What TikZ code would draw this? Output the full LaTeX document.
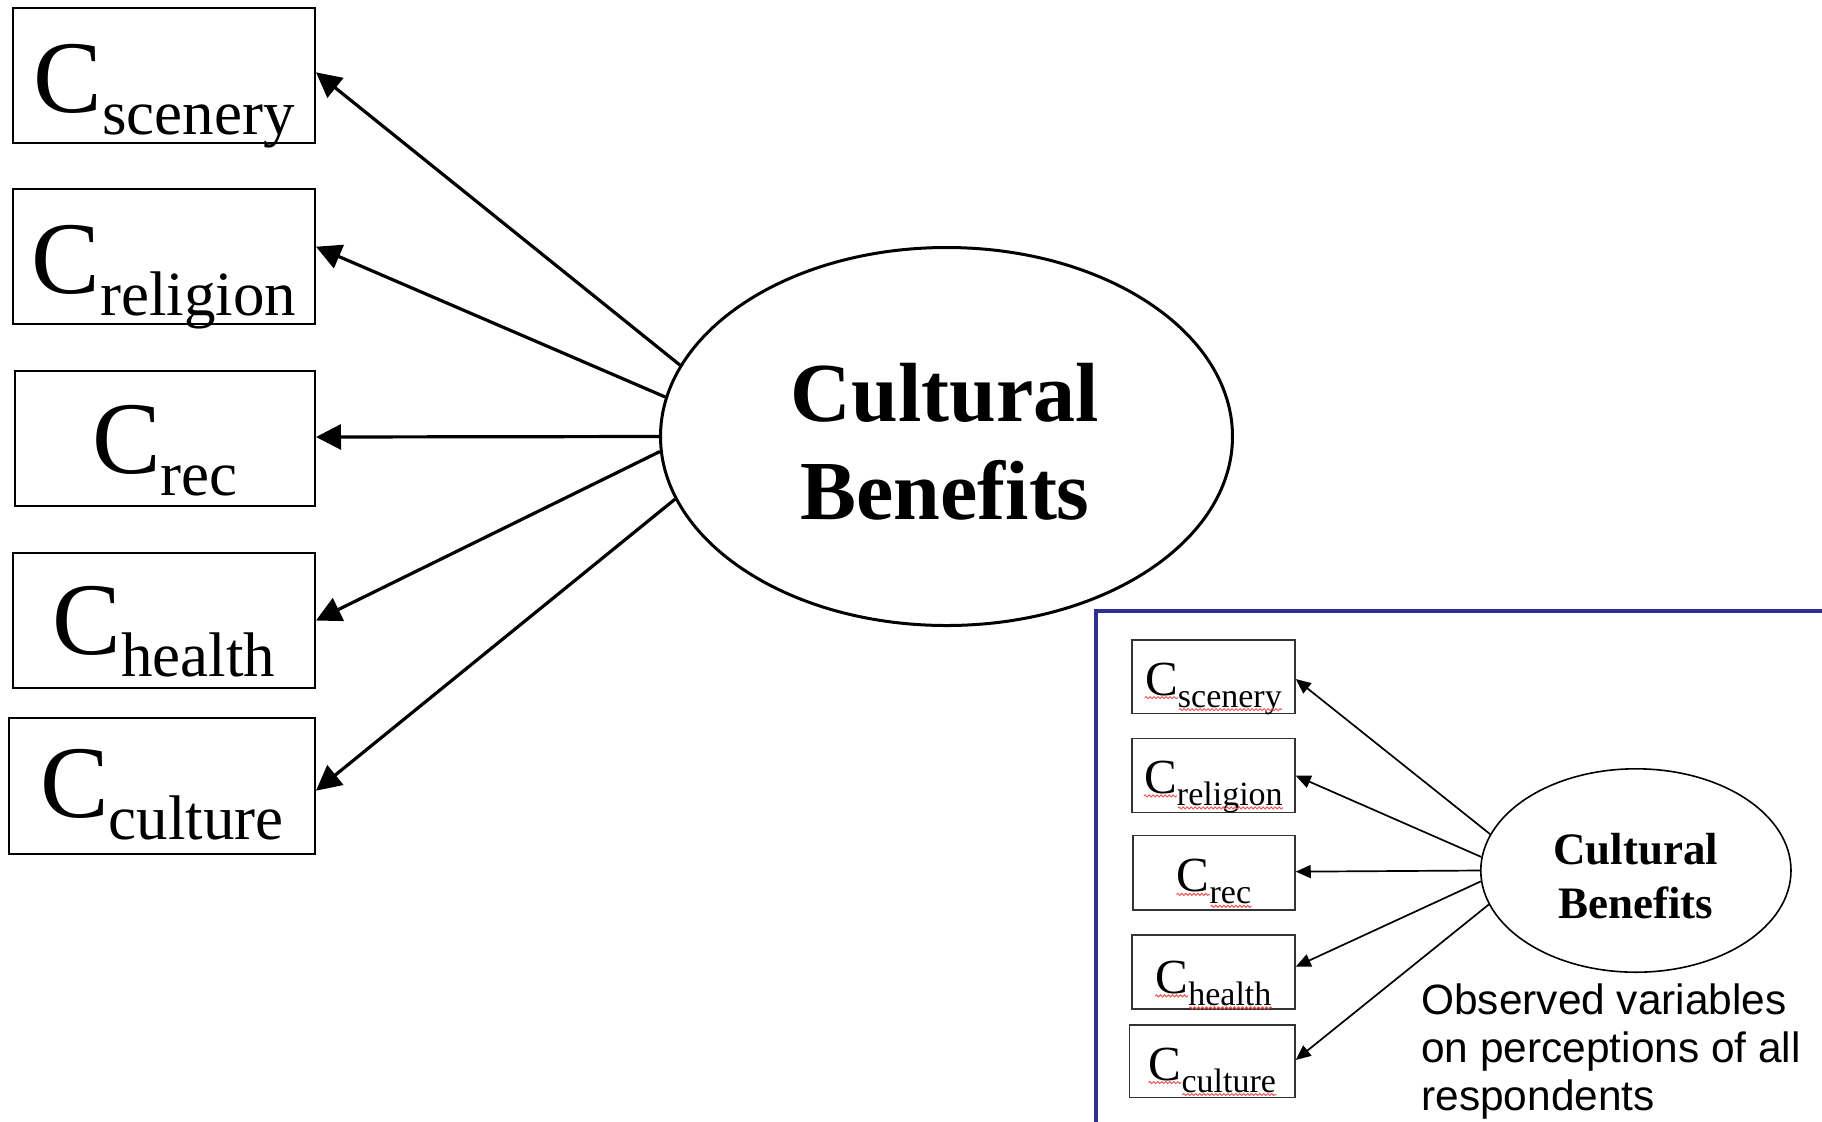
\documentclass[tikz,border=0pt]{standalone}
\usepackage{fontspec}
\setmainfont{Liberation Serif}
\newfontfamily\notefont{Liberation Sans}
\usetikzlibrary{arrows.meta,shapes.geometric,decorations.pathmorphing}
\definecolor{frameblue}{RGB}{46,49,146}
\definecolor{spellred}{RGB}{240,85,85}

% indicator labels: large C with a lowered subscript word
\newcommand{\bigvar}[1]{\fontsize{51.5pt}{55pt}\selectfont C\raisebox{-11pt}{\fontsize{31.5pt}{33pt}\selectfont #1}}
\newcommand{\smallvar}[1]{\fontsize{24.5pt}{26pt}\selectfont C\raisebox{-6pt}{\fontsize{17pt}{18pt}\selectfont #1}}

\tikzset{
  varbox/.style={draw, rectangle, line width=1pt, inner sep=0pt},
  minibox/.style={draw=black!80, rectangle, line width=0.75pt, inner sep=0pt},
  varlabel/.style={inner sep=0pt, anchor=base},
  latent/.style={draw, ellipse, line width=1.5pt, inner sep=0pt},
  latenttext/.style={inner sep=0pt, align=center,
    font=\bfseries\fontsize{42pt}{49.2pt}\selectfont},
  minilatent/.style={draw, ellipse, line width=0.8pt, inner sep=0pt},
  minilatenttext/.style={inner sep=0pt, align=center,
    font=\bfseries\fontsize{22.5pt}{27pt}\selectfont},
  load/.style={line width=1.6pt, -{Triangle[length=12.5pt,width=12.5pt]}},
  miniload/.style={line width=0.85pt, -{Triangle[length=7.5pt,width=6.5pt]}},
  spell/.style={spellred, line width=0.5pt, decorate,
    decoration={snake, amplitude=0.5pt, segment length=2pt}},
}

\begin{document}
\begin{tikzpicture}[x=0.5pt,y=-0.5pt]
\useasboundingbox (0,0) rectangle (1822,1121);
\clip (0,0) rectangle (1822,1121);

% ---------- main measurement model ----------
\node[latent, minimum width=286pt, minimum height=189pt] (cb) at (946.5,436.5) {};
\node[latenttext] (cbtext) at (945,441.5) {Cultural\\Benefits};

\node[varbox, minimum width=151pt, minimum height=67.5pt] (m1) at (164,75.5) {};
\node[varbox, minimum width=151pt, minimum height=67.5pt] (m2) at (164,256.5) {};
\node[varbox, minimum width=150pt, minimum height=67.5pt] (m3) at (165,438.5) {};
\node[varbox, minimum width=151pt, minimum height=67.5pt] (m4) at (164,620.5) {};
\node[varbox, minimum width=153pt, minimum height=68pt] (m5) at (162,786) {};

\node[varlabel] (t1) at (164,112) {\bigvar{scenery}};
\node[varlabel] (t2) at (164,293) {\bigvar{religion}};
\node[varlabel] (t3) at (165,473) {\bigvar{rec}};
\node[varlabel] (t4) at (164,654) {\bigvar{health}};
\node[varlabel] (t5) at (162,817) {\bigvar{culture}};

\draw[load] (cb.165.5) -- ([yshift=1.6pt]m1.east);
\draw[load] (cb.172)   -- ([yshift=4.9pt]m2.east);
\draw[load] (cb.180)   -- ([yshift=0.75pt]m3.east);
\draw[load] (cb.183.9) -- (m4.east);
\draw[load] (cb.193.75) -- ([yshift=-2.35pt]m5.east);

% ---------- small copy in a framed panel ----------
\draw[frameblue, line width=2pt] (1096,611) rectangle (1850,1150);

\node[minilatent, minimum width=155.1pt, minimum height=101.7pt] (sb) at (1635.9,870.5) {};
\node[minilatenttext] (sbtext) at (1635.5,876) {Cultural\\Benefits};

\node[minibox, minimum width=81.5pt, minimum height=36.85pt] (n1) at (1213.5,676.85) {};
\node[minibox, minimum width=81.5pt, minimum height=37pt] (n2) at (1213.5,775.7) {};
\node[minibox, minimum width=81pt, minimum height=37.15pt] (n3) at (1214,872.85) {};
\node[minibox, minimum width=81.5pt, minimum height=37pt] (n4) at (1213.5,972) {};
\node[minibox, minimum width=82.65pt, minimum height=36.35pt] (n5) at (1212.35,1061.35) {};

\node[varlabel] (s1) at (1213.5,695) {\smallvar{scenery}};
\node[varlabel] (s2) at (1213.5,793.3) {\smallvar{religion}};
\node[varlabel] (s3) at (1214,891.7) {\smallvar{rec}};
\node[varlabel] (s4) at (1213.5,993.3) {\smallvar{health}};
\node[varlabel] (s5) at (1212.35,1080) {\smallvar{culture}};

% wavy spelling marks under the small labels
\foreach \n in {1,...,5} {
  \draw[spell] ([yshift=-1.3pt]s\n.base west) -- ++(16.5pt,0pt);
  \draw[spell] ([xshift=17pt,yshift=-7.3pt]s\n.base west) -- ([yshift=-7.3pt]s\n.base east);
}

\draw[miniload] (sb.166.9) -- ([yshift=-1.1pt]n1.east);
\draw[miniload] (sb.175)   -- (n2.east);
\draw[miniload] (sb.180)   -- ([yshift=0.6pt]n3.east);
\draw[miniload] (sb.184.2) -- ([yshift=2.65pt]n4.east);
\draw[miniload] (sb.193.7) -- ([yshift=0.7pt]n5.east);

\node[inner sep=0pt, anchor=north west, align=left,
  font=\notefont\fontsize{21.2pt}{24pt}\selectfont] (note) at (1421,983.5)
  {Observed variables\\on perceptions of all\\respondents};
\end{tikzpicture}
\end{document}
